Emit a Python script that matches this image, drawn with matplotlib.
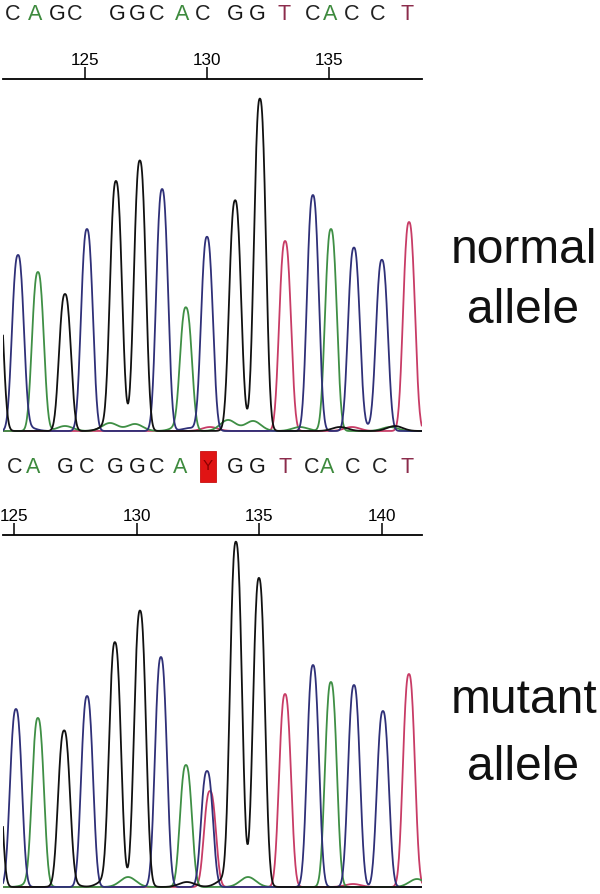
import numpy as np
import matplotlib.pyplot as plt
from matplotlib.patches import Rectangle
from matplotlib.transforms import blended_transform_factory

W, H = 600, 895

# ---- normal allele (top panel) ----
top_seq = "CAGCGGCACGGTCACCT"
top_call_pos = [122.05, 122.95, 123.85, 124.59, 126.31, 127.13, 127.95, 128.98, 129.84,
                131.15, 132.05, 133.16, 134.34, 135.04, 135.94, 137.01, 138.20]
top_ticks = [125, 130, 135]

top_peak_base = "G" + "CAGCGGCACGGTCACCT"
top_peak_pos = [121.39, 122.25, 123.07, 124.18, 125.08, 126.27, 127.25, 128.16, 129.14, 130.00,
                131.15, 132.17, 133.20, 134.34, 135.08, 136.02, 137.17, 138.28]
top_peak_height = [170, 174, 159, 137, 202, 245, 269, 242, 120, 194,
                   225, 329, 190, 236, 202, 183, 170, 209]

# low background hills under the main peaks
top_minor_base = "AAAAAAAAGGGGGGCCCTT"
top_minor_pos = [124.18, 126.02, 127.05, 128.89, 130.86, 131.89, 133.81, 137.50,
                 125.94, 126.76, 131.27, 131.97, 135.45, 137.70,
                 122.62, 129.30, 136.68, 130.12, 135.94]
top_minor_height = [5, 8, 7, 5, 11, 10, 4, 4,
                    6, 5, 6, 4, 4, 5,
                    4, 3, 4, 4, 4]

# ---- mutant allele (bottom panel) ----
bot_seq = "CAGCGGCAYGGTCACCT"
bot_call_pos = [125.04, 125.77, 127.08, 127.98, 129.12, 130.01, 130.83, 131.77, 132.91,
                134.01, 134.91, 136.05, 137.15, 137.76, 138.82, 139.92, 141.02]
bot_ticks = [125, 130, 135, 140]

bot_peak_base = "G" + "CAGCGGCACTGGTCACCT"
bot_peak_pos = [124.23, 125.08, 125.98, 127.04, 127.98, 129.12, 130.14, 130.99, 132.01, 132.87,
                132.99, 134.05, 134.99, 136.05, 137.19, 137.92, 138.86, 140.04, 141.10]
bot_peak_height = [180, 178, 165, 151, 191, 240, 270, 230, 122, 116,
                   96, 342, 303, 193, 222, 205, 202, 176, 213]

bot_minor_base = "AGGAGGGAGTA"
bot_minor_pos = [125.77, 127.16, 128.79, 129.65, 130.01, 132.05, 133.60, 134.54, 134.82,
                 138.82, 141.43]
bot_minor_height = [5, 6, 8, 10, 7, 5, 8, 10, 7, 3, 8]

trace_color = {"A": "#3f8f45", "C": "#2f3078", "G": "#111111", "T": "#c83c66"}
letter_color = {"A": "#3d8a3d", "C": "#222222", "G": "#161616", "T": "#8c2c4c", "Y": "#8a0000"}

plt.rcParams["font.family"] = ["Liberation Sans", "DejaVu Sans"]

fig = plt.figure(figsize=(W / 100, H / 100), dpi=100)


def px_axes(left, top, right, bottom):
    return fig.add_axes([left / W, 1 - bottom / H, (right - left) / W, (bottom - top) / H])


def peak(x, p, h, width, power):
    return h * np.exp(-(np.abs(x - p) / width) ** power)


def draw_panel(ax, xlim, ylim, peak_base, peak_pos, peak_h, minor_base, minor_pos, minor_h,
               ticks, seq, call_pos, letter_y, px_per_base):
    x = np.arange(xlim[0], xlim[1], 0.02)
    for b in "TACG":
        y = np.zeros_like(x)
        for pb, p, h in zip(peak_base, peak_pos, peak_h):
            if pb == b:
                y += peak(x, p, h, 0.31, 2.5)
        for mb, p, h in zip(minor_base, minor_pos, minor_h):
            if mb == b:
                y += peak(x, p, h, 0.45, 2)
        ax.plot(x, y, color=trace_color[b], lw=1.3)
    ax.set_xlim(*xlim)
    ax.set_ylim(*ylim)
    ax.set_yticks([])
    for s in ["left", "right", "bottom"]:
        ax.spines[s].set_visible(False)
    ax.spines["top"].set_linewidth(1.3)
    ax.xaxis.tick_top()
    ax.set_xticks(ticks)
    ax.tick_params(axis="x", direction="out", length=8.6, width=1.1, pad=0,
                   labelsize=12.3)
    for lab in ax.get_xticklabels():
        lab.set_family(["Liberation Sans Narrow", "Liberation Sans"])
    ax.patch.set_visible(False)

    tr = blended_transform_factory(ax.transData, fig.transFigure)
    for ch, p in zip(seq, call_pos):
        if ch == "Y":
            bw = 16 / px_per_base
            ax.add_patch(Rectangle((p - bw / 2, 1 - (letter_y + 10) / H), bw, 31 / H,
                                   transform=tr, fc="#e01414", ec="#c81010", lw=0.6,
                                   clip_on=False))
            ax.text(p, 1 - (letter_y - 3) / H, ch, transform=tr, ha="center",
                    va="baseline", fontsize=11, color=letter_color[ch], clip_on=False)
        else:
            ax.text(p, 1 - letter_y / H, ch, transform=tr, ha="center", va="baseline",
                    fontsize=15.5, color=letter_color[ch], clip_on=False)


# top panel: ruler line at y=80, baseline at y=432
ax1 = px_axes(3, 80, 422, 436)
draw_panel(ax1, (121.639, 138.811), (-4, 352), top_peak_base, top_peak_pos, top_peak_height,
           top_minor_base, top_minor_pos, top_minor_height, top_ticks, top_seq, top_call_pos,
           20, 24.4)

# bottom panel: ruler line at y=536, baseline at y=888
ax2 = px_axes(3, 536, 422, 890)
draw_panel(ax2, (124.552, 141.633), (-2, 352), bot_peak_base, bot_peak_pos, bot_peak_height,
           bot_minor_base, bot_minor_pos, bot_minor_height, bot_ticks, bot_seq, bot_call_pos,
           473, 24.53)

label_kw = dict(ha="center", va="baseline", fontsize=34.5, color="#111111")
fig.text(524 / W, 1 - 263 / H, "normal", **label_kw)
fig.text(523 / W, 1 - 323 / H, "allele", **label_kw)
fig.text(524 / W, 1 - 713 / H, "mutant", **label_kw)
fig.text(523 / W, 1 - 780 / H, "allele", **label_kw)

fig.savefig("out.png", dpi=100)
